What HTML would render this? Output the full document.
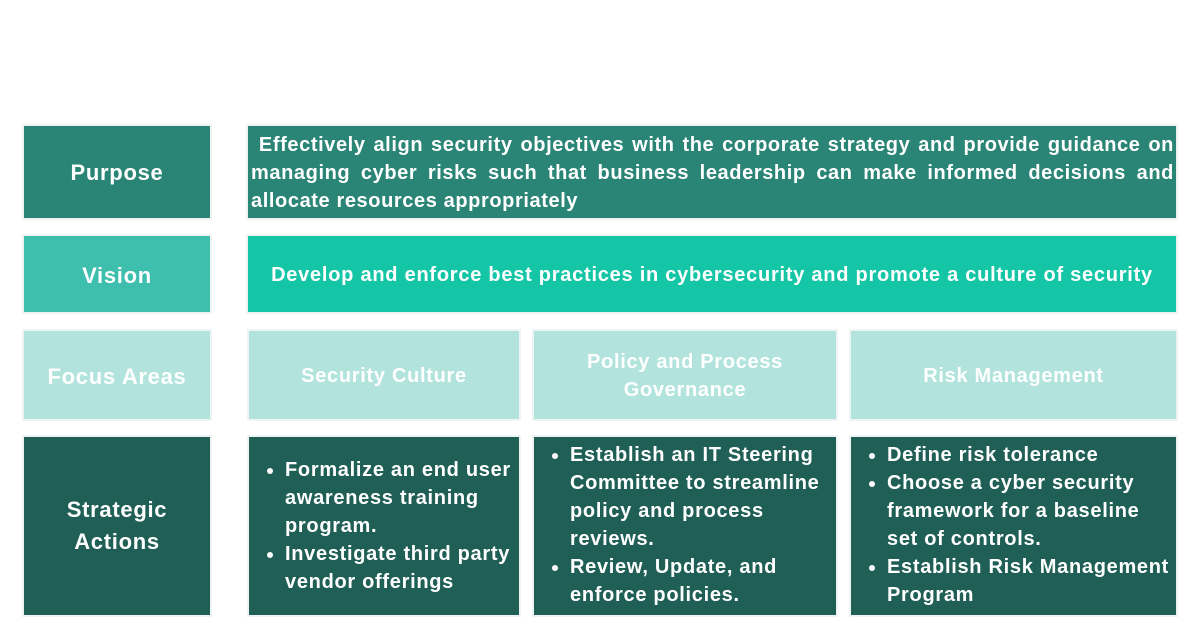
<!DOCTYPE html>
<html><head><style>
body{margin:0;width:1200px;height:628px;background:#fff;position:relative;overflow:hidden;font-family:"Liberation Sans",sans-serif;font-weight:bold;color:#fff;letter-spacing:0.7px}
.b{position:absolute;box-sizing:border-box;box-shadow:0 0 0 2px #eef4f3}
.c{display:flex;align-items:center;justify-content:center;text-align:center;font-size:22px}
ul{margin:0;padding:0 0 0 36px;font-size:20px;line-height:28px}
li{padding-left:0}
</style></head><body>
<div class="b c" style="left:24px;top:126px;width:186px;height:92px;background:#2a8576;padding-top:2px">Purpose</div>
<div class="b" style="left:248px;top:126px;width:928px;height:92px;background:#2a8576;font-size:20px;line-height:28px;padding:5px 2px 0 3px;text-align:justify;text-align-last:left;letter-spacing:0.6px">&nbsp;Effectively align security objectives with the corporate strategy and provide guidance on managing cyber risks such that business leadership can make informed decisions and allocate resources appropriately</div>
<div class="b c" style="left:24px;top:236px;width:186px;height:76px;background:#3ebfad;padding-top:4px">Vision</div>
<div class="b c" style="left:248px;top:236px;width:928px;height:76px;background:#14c6a6;font-size:20px;padding-top:3px;letter-spacing:0.75px">Develop and enforce best practices in cybersecurity and promote a culture of security</div>
<div class="b c" style="left:24px;top:331px;width:186px;height:88px;background:#b2e4dd;padding-top:4px">Focus Areas</div>
<div class="b c" style="left:249px;top:331px;width:270px;height:88px;background:#b2e4dd;font-size:20px;padding-top:2px">Security Culture</div>
<div class="b c" style="left:534px;top:331px;width:302px;height:88px;background:#b2e4dd;font-size:20px;line-height:28px;padding-top:1px">Policy and Process<br>Governance</div>
<div class="b c" style="left:851px;top:331px;width:325px;height:88px;background:#b2e4dd;font-size:20px;padding-top:2px">Risk Management</div>
<div class="b c" style="left:24px;top:437px;width:186px;height:178px;background:#1f5f56;line-height:32px">Strategic<br>Actions</div>
<div class="b" style="left:249px;top:437px;width:270px;height:178px;background:#1f5f56;padding-top:19px"><ul><li>Formalize an end user awareness training program.</li><li>Investigate third party vendor offerings</li></ul></div>
<div class="b" style="left:534px;top:437px;width:302px;height:178px;background:#1f5f56;padding-top:4px"><ul><li>Establish an IT Steering Committee to streamline policy and process reviews.</li><li>Review, Update, and enforce policies.</li></ul></div>
<div class="b" style="left:851px;top:437px;width:325px;height:178px;background:#1f5f56;padding-top:4px"><ul><li>Define risk tolerance</li><li>Choose a cyber security framework for a baseline set of controls.</li><li>Establish Risk Management Program</li></ul></div>
</body></html>
